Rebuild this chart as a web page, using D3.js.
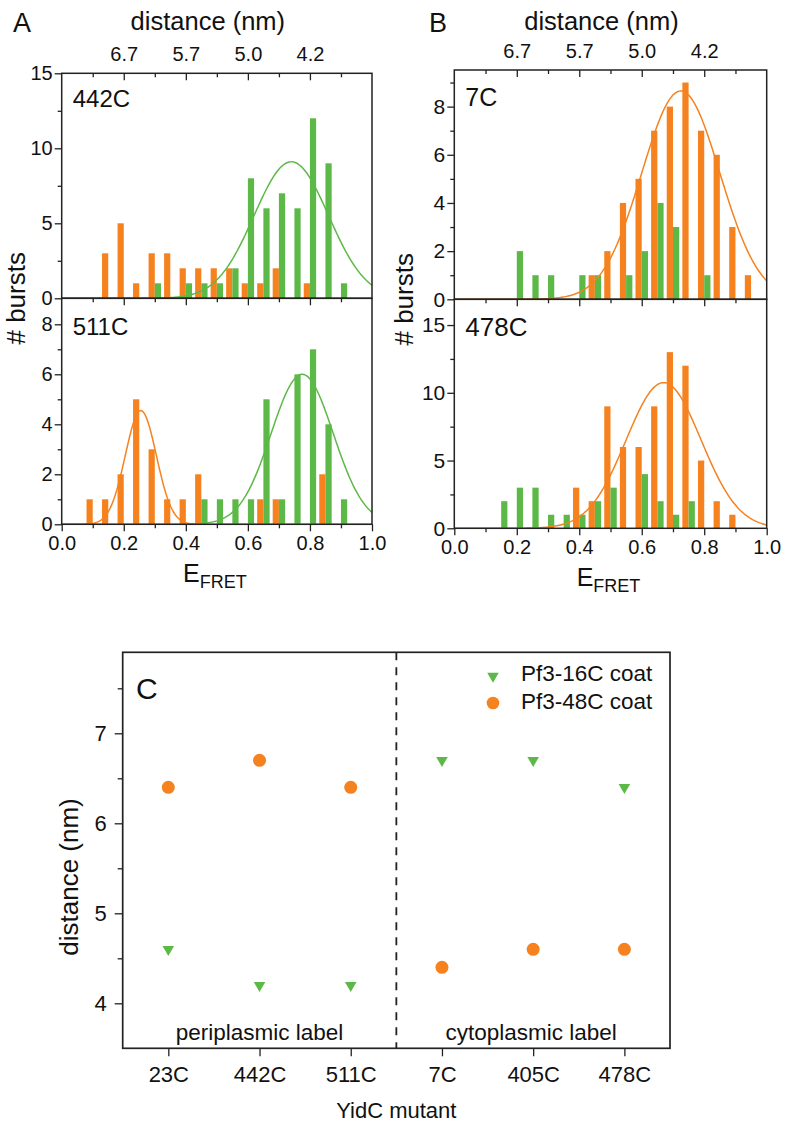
<!DOCTYPE html>
<html><head><meta charset="utf-8">
<script src="https://cdn.jsdelivr.net/npm/d3@7"></script>
<style>
body{margin:0;background:#fff}
svg text{font-family:"Liberation Sans",Arial,sans-serif;fill:#111}
</style>
</head><body>
<svg id="c" width="791" height="1128" xmlns="http://www.w3.org/2000/svg"></svg>
<script>
// ---------- DATA ----------
// Panel A, top (442C)
const orange442Bins   = [0.15,0.2,0.25,0.3,0.35,0.4,0.45,0.5,0.55,0.6,0.65,0.7,0.8];
const orange442Counts = [3,5,1,3,3,2,2,2,2,1,1,2,1];
const green442Bins    = [0.3,0.4,0.45,0.5,0.55,0.6,0.65,0.7,0.75,0.8,0.85,0.9];
const green442Counts  = [1,1,1,1,2,8,6,7,6,12,9,1];
// Panel A, bottom (511C)
const orange511Bins   = [0.1,0.15,0.2,0.25,0.3,0.35,0.4,0.45,0.65,0.7,0.85];
const orange511Counts = [1,1,2,5,3,1,1,2,1,1,2];
const green511Bins    = [0.45,0.5,0.55,0.6,0.65,0.7,0.75,0.8,0.85,0.9];
const green511Counts  = [1,1,1,1,5,1,6,7,4,1];
// Panel B, top (7C)
const orange7Bins     = [0.45,0.5,0.55,0.6,0.65,0.7,0.75,0.8,0.85,0.9,0.95];
const orange7Counts   = [1,2,4,5,7,8,9,7,6,3,1];
const green7Bins      = [0.2,0.25,0.3,0.4,0.45,0.55,0.6,0.65,0.7,0.8];
const green7Counts    = [2,1,1,1,1,1,2,4,3,1];
// Panel B, bottom (478C)
const orange478Bins   = [0.4,0.45,0.5,0.55,0.6,0.65,0.7,0.75,0.8,0.85,0.9];
const orange478Counts = [3,2,9,6,6,9,13,12,5,2,1];
const green478Bins    = [0.15,0.2,0.25,0.3,0.35,0.4,0.45,0.5,0.6,0.65,0.7,0.75];
const green478Counts  = [2,3,3,1,1,1,2,3,4,2,1,2];
// Gaussian fit parameters: [amplitude, centre, width]
const fit442Green = [9.1, 0.74, 0.12];
const fit511Orange = [4.55, 0.255, 0.05];
const fit511Green = [6.0, 0.775, 0.1];
const fit7Orange = [8.65, 0.725, 0.125];
const fit478Orange = [10.75, 0.67, 0.12];
// Top distance axis
const distTickE = [0.2, 0.4, 0.6, 0.8];
const distTickLabels = ["6.7", "5.7", "5.0", "4.2"];
// Panel C
const mutants = ["23C","442C","511C","7C","405C","478C"];
const coat16 = [4.6, 4.2, 4.2, 6.7, 6.7, 6.4];
const coat48 = [6.4, 6.7, 6.4, 4.4, 4.6, 4.6];
const regionLabels = ["periplasmic label", "cytoplasmic label"];
const legendLabels = ["Pf3-16C coat", "Pf3-48C coat"];

// ---------- DRAWING ----------
const ORANGE = "#F5821F", GREEN = "#5DB947", AX = "#222";
const svg = d3.select("#c");
svg.append("rect").attr("width",791).attr("height",1128).attr("fill","#fff");

function styleAxis(g, fs){
  g.select(".domain").remove();
  g.selectAll(".tick line").attr("stroke", AX).attr("stroke-width", 1.3);
  g.selectAll(".tick text").attr("font-size", fs).attr("fill","#111")
    .attr("font-family",'"Liberation Sans",Arial,sans-serif');
}

function histPanel(o){
  const x = d3.scaleLinear().domain([0,1]).range([o.left, o.right]);
  const y = d3.scaleLinear().domain([0,o.ymax]).range([o.bottom, o.top]);
  const g = svg.append("g");
  const w = 0.02;
  g.selectAll("rect.o").data(d3.zip(o.oBins, o.oCounts)).join("rect")
    .attr("x", d => x(d[0]-w)).attr("width", d => x(d[0]) - x(d[0]-w))
    .attr("y", d => y(d[1])).attr("height", d => y(0) - y(d[1])).attr("fill", ORANGE);
  g.selectAll("rect.g").data(d3.zip(o.gBins, o.gCounts)).join("rect")
    .attr("x", d => x(d[0])).attr("width", d => x(d[0]+w) - x(d[0]))
    .attr("y", d => y(d[1])).attr("height", d => y(0) - y(d[1])).attr("fill", GREEN);
  const line = d3.line().x(d => x(d[0])).y(d => y(d[1]));
  const es = d3.range(0, 1.0001, 0.004);
  (o.fits || []).forEach(f => {
    const p = f.p;
    const pts = es.map(e => [e, p[0]*Math.exp(-((e-p[1])**2)/(2*p[2]*p[2]))]);
    g.append("path").attr("d", line(pts)).attr("fill","none")
      .attr("stroke", f.c).attr("stroke-width", 1.5);
  });
  // y axis
  const ya = g.append("g").attr("transform",`translate(${o.left},0)`)
    .call(d3.axisLeft(y).tickValues(o.majors).tickSize(7).tickPadding(2).tickFormat(d3.format("d")));
  styleAxis(ya, o.yfs);
  const ym = g.append("g").attr("transform",`translate(${o.left},0)`)
    .call(d3.axisLeft(y).tickValues(o.minors).tickSize(4).tickFormat(""));
  styleAxis(ym, 10);
  // top inward ticks
  const ta = g.append("g").attr("transform",`translate(0,${o.top})`)
    .call(d3.axisTop(x).tickValues([0.2,0.4,0.6,0.8]).tickSize(-7).tickFormat(""));
  styleAxis(ta, 10);
  const tm = g.append("g").attr("transform",`translate(0,${o.top})`)
    .call(d3.axisTop(x).tickValues([0.1,0.3,0.5,0.7,0.9]).tickSize(-4).tickFormat(""));
  styleAxis(tm, 10);
  if (o.distAxis){
    const da = g.append("g").attr("transform",`translate(0,${o.top})`)
      .call(d3.axisTop(x).tickValues(distTickE).tickSize(0).tickPadding(12)
        .tickFormat((d,i) => distTickLabels[i]));
    styleAxis(da, 20);
  }
  if (o.bottomAxis){
    const ba = g.append("g").attr("transform",`translate(0,${o.bottom})`)
      .call(d3.axisBottom(x).tickValues([0,0.2,0.4,0.6,0.8,1.0]).tickSize(7).tickPadding(5)
        .tickFormat(d3.format(".1f")));
    styleAxis(ba, 20);
    const bm = g.append("g").attr("transform",`translate(0,${o.bottom})`)
      .call(d3.axisBottom(x).tickValues([0.1,0.3,0.5,0.7,0.9]).tickSize(4).tickFormat(""));
    styleAxis(bm, 10);
  }
  // frame
  g.append("rect").attr("x",o.left).attr("y",o.top).attr("width",o.right-o.left)
    .attr("height",o.bottom-o.top).attr("fill","none").attr("stroke",AX).attr("stroke-width",1.5);
  g.append("text").attr("x", o.left+11).attr("y", o.top+o.labelDy)
    .attr("font-size", o.labelFs).text(o.label);
  return x;
}

// Panel A
const aL = 61.7, aR = 372, aT = 73.3, aM = 298.3, aB = 524.3;
histPanel({left:aL,right:aR,top:aT,bottom:aM,ymax:15,majors:[0,5,10,15],minors:[2.5,7.5,12.5],yfs:20,
  oBins:orange442Bins,oCounts:orange442Counts,gBins:green442Bins,gCounts:green442Counts,
  fits:[{p:fit442Green,c:GREEN}],label:"442C",labelDy:34,labelFs:24,distAxis:true});
histPanel({left:aL,right:aR,top:aM,bottom:aB,ymax:9.04,majors:[0,2,4,6,8],minors:[1,3,5,7],yfs:20,
  oBins:orange511Bins,oCounts:orange511Counts,gBins:green511Bins,gCounts:green511Counts,
  fits:[{p:fit511Orange,c:ORANGE},{p:fit511Green,c:GREEN}],label:"511C",labelDy:37,labelFs:24,bottomAxis:true});
// Panel B
const bL = 454.3, bR = 766.7, bT = 70, bM = 299.3, bB = 528.3;
histPanel({left:bL,right:bR,top:bT,bottom:bM,ymax:9.52,majors:[0,2,4,6,8],minors:[1,3,5,7,9],yfs:21,
  oBins:orange7Bins,oCounts:orange7Counts,gBins:green7Bins,gCounts:green7Counts,
  fits:[{p:fit7Orange,c:ORANGE}],label:"7C",labelDy:36,labelFs:25,distAxis:true});
histPanel({left:bL,right:bR,top:bM,bottom:bB,ymax:16.9,majors:[0,5,10,15],minors:[2.5,7.5,12.5],yfs:21,
  oBins:orange478Bins,oCounts:orange478Counts,gBins:green478Bins,gCounts:green478Counts,
  fits:[{p:fit478Orange,c:ORANGE}],label:"478C",labelDy:37,labelFs:26,bottomAxis:true});

// shared labels for A and B
[[aL,aR,aM,aB,25,13,"A"],[bL,bR,bM,bB,413,429,"B"]].forEach(([l,r,m,b,yl,px,lt]) => {
  svg.append("text").attr("x",px).attr("y",32).attr("font-size",27).text(lt);
  svg.append("text").attr("x",(l+r)/2 - 9).attr("y",30).attr("text-anchor","middle")
    .attr("font-size",25.5).text("distance (nm)");
  svg.append("text").attr("transform",`translate(${yl},${m}) rotate(-90)`)
    .attr("text-anchor","middle").attr("font-size",26).text("# bursts");
  const t = svg.append("text").attr("x",(l+r)/2 - 2).attr("y",b+58).attr("text-anchor","middle")
    .attr("font-size",25);
  t.append("tspan").text("E");
  t.append("tspan").attr("font-size",18).attr("dy",6).text("FRET");
});

// Panel C
const cL = 122.7, cR = 670, cT = 652.3, cB = 1048.3;
const xc = d3.scalePoint().domain(mutants).range([cL, cR]).padding(0.5);
const yc = d3.scaleLinear().domain([3.5, 7.9]).range([cB, cT]);
const gc = svg.append("g");
const ya = gc.append("g").attr("transform",`translate(${cL},0)`)
  .call(d3.axisLeft(yc).tickValues([4,5,6,7]).tickSize(8).tickPadding(8).tickFormat(d3.format("d")));
styleAxis(ya, 22);
const ym = gc.append("g").attr("transform",`translate(${cL},0)`)
  .call(d3.axisLeft(yc).tickValues([4.5,5.5,6.5,7.5]).tickSize(5).tickFormat(""));
styleAxis(ym, 10);
const xa = gc.append("g").attr("transform",`translate(0,${cB})`)
  .call(d3.axisBottom(xc).tickSize(8).tickPadding(10));
styleAxis(xa, 22);
const xDiv = (xc(mutants[2]) + xc(mutants[3]))/2;
gc.append("line").attr("x1",xDiv).attr("x2",xDiv).attr("y1",cT).attr("y2",cB)
  .attr("stroke",AX).attr("stroke-width",1.8).attr("stroke-dasharray","8,7");
gc.append("rect").attr("x",cL).attr("y",cT).attr("width",cR-cL).attr("height",cB-cT)
  .attr("fill","none").attr("stroke",AX).attr("stroke-width",1.7);
// points
const tri = d3.symbol().type(d3.symbolTriangle).size(58);
gc.selectAll("path.t").data(d3.zip(mutants, coat16)).join("path")
  .attr("d", tri).attr("fill", GREEN)
  .attr("transform", d => `translate(${xc(d[0])},${yc(d[1])}) rotate(180)`);
gc.selectAll("circle.o").data(d3.zip(mutants, coat48)).join("circle")
  .attr("cx", d => xc(d[0])).attr("cy", d => yc(d[1])).attr("r", 6.5).attr("fill", ORANGE);
// region labels
gc.append("text").attr("x", xc(mutants[1])).attr("y", cB-8).attr("text-anchor","middle")
  .attr("font-size",22.5).text(regionLabels[0]);
gc.append("text").attr("x", xc(mutants[4])-2).attr("y", cB-8).attr("text-anchor","middle")
  .attr("font-size",22.5).text(regionLabels[1]);
// legend
gc.append("path").attr("d", tri).attr("fill", GREEN).attr("transform","translate(493,676) rotate(180)");
gc.append("circle").attr("cx",493).attr("cy",703).attr("r",6.3).attr("fill",ORANGE);
gc.append("text").attr("x",521).attr("y",681).attr("font-size",22.5).text(legendLabels[0]);
gc.append("text").attr("x",521).attr("y",709).attr("font-size",22.5).text(legendLabels[1]);
// titles
gc.append("text").attr("x",136).attr("y",699).attr("font-size",30).text("C");
gc.append("text").attr("transform",`translate(78,877) rotate(-90)`).attr("text-anchor","middle")
  .attr("font-size",26).text("distance (nm)");
gc.append("text").attr("x",(cL+cR)/2).attr("y",1118).attr("text-anchor","middle")
  .attr("font-size",22).text("YidC mutant");
</script>
</body></html>
